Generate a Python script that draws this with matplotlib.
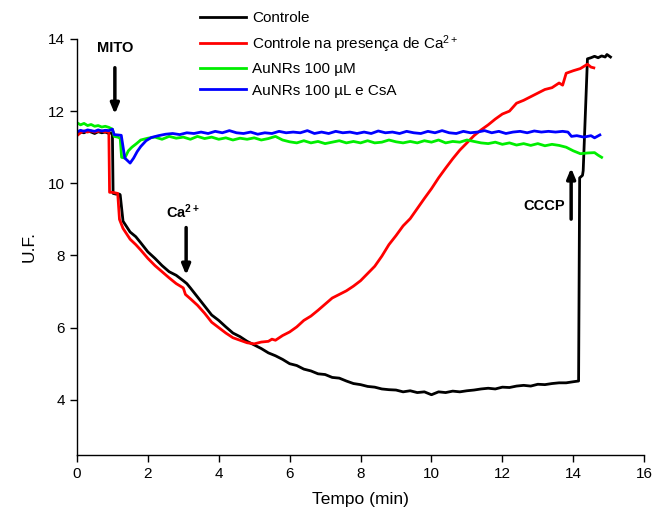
import matplotlib
matplotlib.use("Agg")
import matplotlib.pyplot as plt

plt.rcParams['font.family'] = ['Liberation Sans', 'DejaVu Sans']
plt.rcParams['mathtext.fontset'] = 'custom'
plt.rcParams['mathtext.rm'] = 'Liberation Sans'
plt.rcParams['mathtext.it'] = 'Liberation Sans:italic'
plt.rcParams['mathtext.bf'] = 'Liberation Sans:bold'
plt.rcParams['mathtext.default'] = 'regular'

# Controle
t_ctrl = [0.0, 0.1, 0.2, 0.3, 0.4, 0.5, 0.6, 0.7, 0.8, 0.9, 1.0, 1.02, 1.1, 1.2, 1.22,
          1.3, 1.4, 1.5, 1.66, 1.8, 2.0, 2.2, 2.4, 2.6, 2.8, 3.0, 3.1, 3.2, 3.4, 3.6,
          3.8, 4.0, 4.2, 4.4, 4.6, 4.8, 5.0, 5.2, 5.4, 5.6, 5.8, 6.0, 6.2, 6.4, 6.6,
          6.8, 7.0, 7.2, 7.4, 7.6, 7.8, 8.0, 8.2, 8.4, 8.6, 8.8, 9.0, 9.2, 9.4, 9.6,
          9.8, 10.0, 10.2, 10.4, 10.6, 10.8, 11.0, 11.2, 11.4, 11.6, 11.8, 12.0, 12.2,
          12.4, 12.6, 12.8, 13.0, 13.2, 13.4, 13.6, 13.8, 14.0, 14.15, 14.18, 14.26,
          14.28, 14.40, 14.5, 14.6, 14.7, 14.8, 14.9, 14.95, 15.05]
v_ctrl = [11.35, 11.42, 11.40, 11.45, 11.42, 11.38, 11.43, 11.40, 11.42, 11.38, 11.40,
          9.72, 9.70, 9.70, 9.68, 8.95, 8.80, 8.65, 8.52, 8.35, 8.10, 7.92, 7.72, 7.55,
          7.45, 7.30, 7.22, 7.10, 6.85, 6.60, 6.35, 6.20, 6.02, 5.85, 5.75, 5.62, 5.52,
          5.42, 5.30, 5.22, 5.12, 5.00, 4.95, 4.85, 4.80, 4.72, 4.70, 4.62, 4.60, 4.52,
          4.45, 4.42, 4.37, 4.35, 4.30, 4.28, 4.27, 4.22, 4.25, 4.20, 4.22, 4.14, 4.22,
          4.20, 4.24, 4.22, 4.25, 4.27, 4.30, 4.32, 4.30, 4.35, 4.34, 4.38, 4.40, 4.38,
          4.43, 4.42, 4.45, 4.47, 4.47, 4.50, 4.52, 10.15, 10.22, 10.35, 13.45, 13.48,
          13.52, 13.48, 13.53, 13.50, 13.57, 13.50]

# Controle na presença de Ca2+
t_ca = [0.0, 0.1, 0.2, 0.3, 0.4, 0.5, 0.6, 0.7, 0.8, 0.9, 0.92, 1.0, 1.1, 1.15, 1.2,
        1.3, 1.4, 1.5, 1.66, 1.8, 2.0, 2.2, 2.4, 2.6, 2.8, 3.0, 3.06, 3.2, 3.4, 3.6,
        3.8, 4.0, 4.2, 4.4, 4.6, 4.8, 5.0, 5.2, 5.4, 5.5, 5.6, 5.8, 6.0, 6.2, 6.4,
        6.6, 6.8, 7.0, 7.2, 7.4, 7.6, 7.8, 8.0, 8.2, 8.4, 8.6, 8.8, 9.0, 9.2, 9.4,
        9.6, 9.8, 10.0, 10.2, 10.4, 10.6, 10.8, 11.0, 11.2, 11.4, 11.6, 11.8, 12.0,
        12.2, 12.4, 12.6, 12.8, 13.0, 13.2, 13.4, 13.6, 13.7, 13.8, 14.0, 14.2, 14.4,
        14.5, 14.58]
v_ca = [11.32, 11.40, 11.45, 11.42, 11.45, 11.42, 11.44, 11.45, 11.42, 11.44, 9.75,
        9.75, 9.73, 9.72, 9.00, 8.75, 8.60, 8.45, 8.30, 8.15, 7.92, 7.72, 7.55, 7.38,
        7.22, 7.10, 6.92, 6.80, 6.62, 6.40, 6.15, 6.00, 5.85, 5.72, 5.65, 5.58, 5.55,
        5.60, 5.62, 5.68, 5.65, 5.78, 5.88, 6.02, 6.20, 6.32, 6.48, 6.65, 6.82, 6.92,
        7.02, 7.15, 7.30, 7.50, 7.70, 7.98, 8.30, 8.55, 8.82, 9.02, 9.30, 9.58, 9.85,
        10.15, 10.42, 10.68, 10.92, 11.12, 11.32, 11.48, 11.62, 11.78, 11.92, 12.00,
        12.22, 12.30, 12.40, 12.50, 12.60, 12.65, 12.78, 12.72, 13.05, 13.12, 13.18,
        13.30, 13.22, 13.20]

# AuNRs 100 µM
t_au = [0.0, 0.1, 0.2, 0.3, 0.4, 0.5, 0.6, 0.7, 0.8, 0.9, 1.0, 1.05, 1.15, 1.22, 1.26,
        1.35, 1.45, 1.55, 1.68, 1.8, 2.0, 2.2, 2.4, 2.6, 2.8, 3.0, 3.2, 3.4, 3.6, 3.8,
        4.0, 4.2, 4.4, 4.6, 4.8, 5.0, 5.2, 5.4, 5.6, 5.8, 6.0, 6.2, 6.4, 6.6, 6.8,
        7.0, 7.2, 7.4, 7.6, 7.8, 8.0, 8.2, 8.4, 8.6, 8.8, 9.0, 9.2, 9.4, 9.6, 9.8,
        10.0, 10.2, 10.4, 10.6, 10.8, 11.0, 11.2, 11.4, 11.6, 11.8, 12.0, 12.2, 12.4,
        12.6, 12.8, 13.0, 13.2, 13.4, 13.6, 13.8, 14.0, 14.2, 14.4, 14.6, 14.7, 14.8]
v_au = [11.68, 11.62, 11.66, 11.60, 11.63, 11.58, 11.60, 11.56, 11.58, 11.55, 11.50,
        11.30, 11.28, 11.25, 10.72, 10.70, 10.90, 11.00, 11.10, 11.20, 11.25, 11.28,
        11.22, 11.30, 11.25, 11.28, 11.22, 11.30, 11.24, 11.28, 11.22, 11.26, 11.20,
        11.25, 11.22, 11.26, 11.20, 11.24, 11.30, 11.20, 11.15, 11.12, 11.18, 11.12,
        11.16, 11.10, 11.14, 11.18, 11.12, 11.16, 11.12, 11.18, 11.12, 11.14, 11.20,
        11.15, 11.12, 11.16, 11.12, 11.18, 11.14, 11.20, 11.12, 11.16, 11.14, 11.20,
        11.16, 11.12, 11.10, 11.14, 11.08, 11.12, 11.06, 11.10, 11.05, 11.10, 11.04,
        11.08, 11.05, 11.00, 10.90, 10.82, 10.84, 10.85, 10.78, 10.72]

# AuNRs 100 µL e CsA
t_csa = [0.0, 0.1, 0.2, 0.3, 0.4, 0.5, 0.6, 0.7, 0.8, 0.9, 1.0, 1.05, 1.15, 1.25, 1.35,
         1.5, 1.6, 1.7, 1.8, 1.95, 2.1, 2.3, 2.5, 2.7, 2.9, 3.1, 3.3, 3.5, 3.7, 3.9,
         4.1, 4.3, 4.5, 4.7, 4.9, 5.1, 5.3, 5.5, 5.7, 5.9, 6.1, 6.3, 6.5, 6.7, 6.9,
         7.1, 7.3, 7.5, 7.7, 7.9, 8.1, 8.3, 8.5, 8.7, 8.9, 9.1, 9.3, 9.5, 9.7, 9.9,
         10.1, 10.3, 10.5, 10.7, 10.9, 11.1, 11.3, 11.5, 11.7, 11.9, 12.1, 12.3, 12.5,
         12.7, 12.9, 13.1, 13.3, 13.5, 13.7, 13.85, 13.95, 14.1, 14.3, 14.5, 14.6, 14.75]
v_csa = [11.42, 11.47, 11.44, 11.48, 11.46, 11.44, 11.48, 11.45, 11.47, 11.46, 11.50,
         11.35, 11.34, 11.33, 10.70, 10.56, 10.70, 10.88, 11.02, 11.18, 11.27, 11.32,
         11.36, 11.38, 11.35, 11.40, 11.38, 11.42, 11.38, 11.44, 11.40, 11.46, 11.40,
         11.38, 11.42, 11.36, 11.40, 11.38, 11.44, 11.40, 11.42, 11.40, 11.46, 11.38,
         11.42, 11.38, 11.44, 11.40, 11.42, 11.38, 11.42, 11.38, 11.45, 11.40, 11.42,
         11.38, 11.44, 11.40, 11.38, 11.44, 11.40, 11.46, 11.40, 11.38, 11.44, 11.40,
         11.42, 11.46, 11.40, 11.44, 11.38, 11.42, 11.44, 11.40, 11.45, 11.42, 11.44,
         11.42, 11.44, 11.42, 11.30, 11.32, 11.28, 11.32, 11.26, 11.34]

labels = ['Controle', 'Controle na presença de Ca$^{2+}$',
          'AuNRs 100 µM', 'AuNRs 100 µL e CsA']
colors = ['#000000', '#ff0000', '#00ee00', '#0000ff']

fig = plt.figure(figsize=(6.52, 5.21), dpi=100)
ax = fig.add_axes([0.118, 0.1267, 0.870, 0.7985])

series = [(t_ctrl, v_ctrl), (t_ca, v_ca), (t_au, v_au), (t_csa, v_csa)]
for (t, v), lab, c in zip(series, labels, colors):
    ax.plot(t, v, color=c, lw=2.0, label=lab)

ax.set_xlim(0, 16)
ax.set_ylim(2.47, 14)
ax.set_xticks(range(0, 17, 2))
ax.set_yticks(range(4, 15, 2))
for s in ['top', 'right']:
    ax.spines[s].set_visible(False)
for s in ['left', 'bottom']:
    ax.spines[s].set_linewidth(1.0)
ax.spines['left'].set_bounds(2.47, 14)
ax.tick_params(direction='out', length=5, width=1.0, labelsize=11)
ax.set_xlabel('Tempo (min)', fontsize=12.5, labelpad=8)
ax.set_ylabel('U.F.', fontsize=12.5, labelpad=8)

# Event markers
arrow = dict(arrowstyle='-|>,head_length=0.6,head_width=0.25', color='black', lw=2.5)
ax.annotate('', xy=(1.07, 11.84), xytext=(1.07, 13.28), arrowprops=arrow)
ax.text(1.07, 13.75, 'MITO', ha='center', va='center', fontsize=10.5, fontweight='bold')

ax.annotate('', xy=(3.08, 7.38), xytext=(3.08, 8.85), arrowprops=arrow)
ax.text(3.0, 9.2, r'$\mathbf{Ca^{2+}}$', ha='center', va='center', fontsize=10.5)

ax.annotate('', xy=(13.94, 10.5), xytext=(13.94, 8.93), arrowprops=arrow)
ax.text(13.18, 9.37, 'CCCP', ha='center', va='center', fontsize=10.5, fontweight='bold')

fig.legend(loc='upper left', bbox_to_anchor=(0.298, 0.99), frameon=False,
           fontsize=11, handlelength=3.0, handletextpad=0.4, labelspacing=0.5,
           borderaxespad=0.0)

fig.savefig('out.png', dpi=100)
